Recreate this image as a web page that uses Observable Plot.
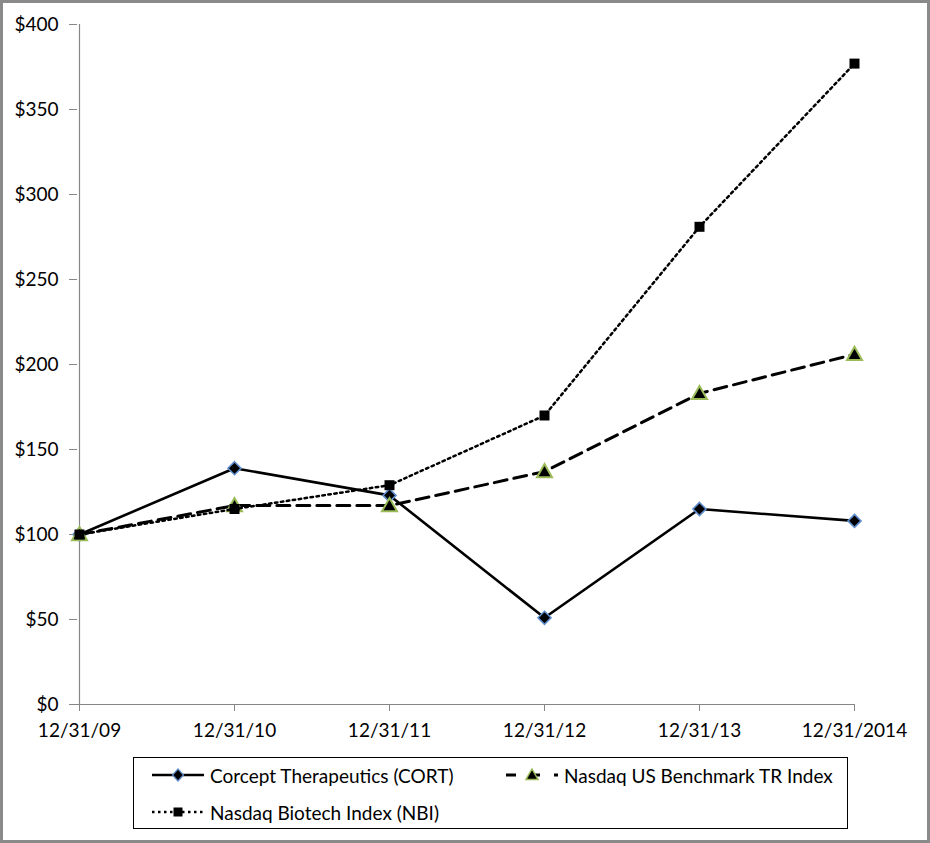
<!DOCTYPE html>
<html>
<head>
<meta charset="utf-8">
<script src="https://cdn.jsdelivr.net/npm/d3@7"></script>
<script src="https://cdn.jsdelivr.net/npm/@observablehq/plot@0.6"></script>
<style>
  html, body { margin: 0; padding: 0; background: #fff; }
  #wrap { position: relative; width: 930px; height: 843px; overflow: hidden; background: #fff; font-family: Lato, "Open Sans", sans-serif; }
  #frame { position: absolute; left: 0; top: 0; width: 930px; height: 843px; box-sizing: border-box; border: 3px solid #8a8a8a; pointer-events: none; }
  #chart { position: absolute; left: 0; top: 0; }
  #legend { position: absolute; left: 133px; top: 757px; width: 715px; height: 72px; box-sizing: border-box; border: 1.5px solid #000; }
  .item { position: absolute; display: flex; align-items: center; font-size: 19px; color: #000; white-space: nowrap; }
  .item svg { margin-right: 4px; }
</style>
</head>
<body>
<div id="wrap">
  <div id="chart"></div>
  <div id="legend"></div>
  <div id="frame"></div>
</div>
<script>
const dates = ["12/31/09", "12/31/10", "12/31/11", "12/31/12", "12/31/13", "12/31/2014"];
const cort = [100, 139, 123, 51, 115, 108];
const bench = [100, 117, 117, 137, 183, 206];
const nbi = [100, 115, 129, 170, 281, 377];
const yTicks = [0, 50, 100, 150, 200, 250, 300, 350, 400];
const seriesNames = ["Corcept Therapeutics (CORT)", "Nasdaq US Benchmark TR Index", "Nasdaq Biotech Index (NBI)"];

const rows = (vals, name) => dates.map((d, i) => ({date: d, value: vals[i], series: name}));
const dCort = rows(cort, seriesNames[0]);
const dBench = rows(bench, seriesNames[1]);
const dNbi = rows(nbi, seriesNames[2]);

const diamondSym = {draw(ctx, size) { const s = Math.sqrt(size / Math.PI); ctx.moveTo(0, -s); ctx.lineTo(s, 0); ctx.lineTo(0, s); ctx.lineTo(-s, 0); ctx.closePath(); }};
const triSym = {draw(ctx, size) { const s = Math.sqrt(size / Math.PI); ctx.moveTo(0, -s); ctx.lineTo(s, 0.75 * s); ctx.lineTo(-s, 0.75 * s); ctx.closePath(); }};
const squareSym = {draw(ctx, size) { const s = Math.sqrt(size / Math.PI); ctx.rect(-s, -s, 2 * s, 2 * s); }};

const axisGray = "#868686";
const fmt = d => "$" + d;

const chart = Plot.plot({
  width: 930,
  height: 750,
  marginLeft: 77,
  marginRight: 75,
  marginTop: 24,
  marginBottom: 46,
  style: {fontFamily: "Lato, 'Open Sans', sans-serif", fontSize: "19px", color: "#000", background: "transparent"},
  x: {type: "point", domain: dates, padding: 0, label: null},
  y: {domain: [0, 400], label: null},
  marks: [
    Plot.axisY({ticks: yTicks, tickFormat: fmt, tickSize: 8, tickPadding: 11, stroke: axisGray, fill: "#000", label: null}),
    Plot.axisX({tickSize: 7, tickPadding: 12, stroke: axisGray, fill: "#000", label: null}),
    Plot.ruleX([dates[0]], {stroke: axisGray, strokeWidth: 1.2}),
    Plot.ruleY([0], {stroke: axisGray, strokeWidth: 1.2}),
    Plot.line(dCort, {x: "date", y: "value", stroke: "#000", strokeWidth: 2.6}),
    Plot.dot(dCort, {x: "date", y: "value", symbol: diamondSym, r: 6.5, fill: "#000", stroke: "#5f8ccc", strokeWidth: 1.6}),
    Plot.line(dBench, {x: "date", y: "value", stroke: "#000", strokeWidth: 3, strokeDasharray: "13,7"}),
    Plot.dot(dBench, {x: "date", y: "value", symbol: triSym, r: 7.5, fill: "#000", stroke: "#9bbb59", strokeWidth: 2}),
    Plot.line(dNbi, {x: "date", y: "value", stroke: "#000", strokeWidth: 2.5, strokeDasharray: "2.5,3.5"}),
    Plot.dot(dNbi, {x: "date", y: "value", symbol: squareSym, r: 5, fill: "#000"})
  ]
});
document.getElementById("chart").appendChild(chart);

// Legend
const legend = document.getElementById("legend");
const legendItems = [
  {name: seriesNames[0], left: 16, top: 17, dash: null, width: 2.6, marker: "diamond"},
  {name: seriesNames[1], left: 370, top: 17, dash: "10,14", width: 3, marker: "triangle"},
  {name: seriesNames[2], left: 16, top: 54, dash: "2.5,3.5", width: 2.5, marker: "square"}
];
for (const it of legendItems) {
  const div = document.createElement("div");
  div.className = "item";
  div.style.left = it.left + "px";
  div.style.top = (it.top - 13) + "px";
  div.style.height = "26px";
  let marker = "";
  if (it.marker === "diamond") marker = `<path d="M28,7 L33.5,13 L28,19 L22.5,13 Z" fill="#000" stroke="#5f8ccc" stroke-width="1.2"/>`;
  if (it.marker === "triangle") marker = `<path d="M28,7 L34,17.5 L22,17.5 Z" fill="#000" stroke="#9bbb59" stroke-width="1.5"/>`;
  if (it.marker === "square") marker = `<rect x="23.5" y="8.5" width="9" height="9" fill="#000"/>`;
  const dashAttr = it.dash ? `stroke-dasharray="${it.dash}"` : "";
  div.innerHTML = `<svg width="56" height="26" viewBox="0 0 56 26"><line x1="2" y1="13" x2="54" y2="13" stroke="#000" stroke-width="${it.width}" ${dashAttr}/>${marker}</svg><span>${it.name}</span>`;
  legend.appendChild(div);
}
</script>
</body>
</html>
